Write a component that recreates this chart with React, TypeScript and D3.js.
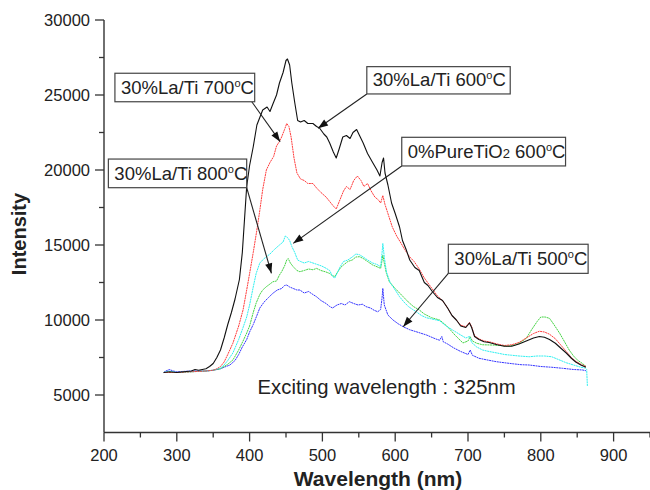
import React from "react";
import * as d3 from "d3";

// ---------- data (wavelength nm, intensity) ----------
const s600: [number, number][] = [
  [282, 6500], [290, 6550], [300, 6500], [310, 6550], [320, 6600], [325, 6700], [330, 6650], [340, 6750],
  [345, 6900], [350, 7100], [355, 7500], [360, 8000], [365, 8800], [370, 9700], [375, 10500], [380, 11400],
  [386, 12700], [390, 14500], [396, 18900], [400, 20300], [405, 21550], [410, 23000], [414, 23500], [418, 24000],
  [424, 24200], [428, 23900], [432, 24400], [437, 25000], [441, 25800], [446, 26500], [450, 27300], [452, 27400],
  [455, 27000], [458, 25800], [462, 24500], [466, 23300], [470, 23200], [475, 23300], [480, 23100], [487, 23100],
  [492, 22900], [496, 22800], [502, 22400], [506, 22200], [510, 21800], [515, 21200], [519, 20800], [523, 21400],
  [528, 22200], [533, 22300], [538, 22100], [542, 22500], [547, 22700], [551, 22300], [556, 21800], [562, 21100],
  [569, 20500], [575, 20000], [579, 19600], [582, 20500], [584, 20800], [586, 19800], [590, 19000], [595, 17800],
  [600, 17100], [606, 16200], [610, 15300], [615, 14700], [620, 14000], [627, 13500], [633, 13300], [640, 12500],
  [645, 12300], [651, 11900], [658, 11500], [665, 11300], [672, 10800], [678, 10300], [684, 10000], [690, 9600],
  [697, 9500], [702, 9800], [705, 9500], [709, 8900], [715, 8700], [722, 8550], [729, 8500], [740, 8350],
  [750, 8250], [760, 8250], [770, 8400], [780, 8600], [790, 8800], [798, 8900], [805, 8850], [812, 8700],
  [820, 8450], [828, 8100], [835, 7800], [842, 7450], [848, 7200], [855, 7000], [862, 6850],
];

const s700: [number, number][] = [
  [282, 6500], [300, 6500], [320, 6550], [340, 6600], [350, 6650], [355, 6750], [360, 6900], [365, 7200],
  [370, 7700], [377, 8450], [385, 9600], [391, 10670], [396, 12000], [400, 13100], [405, 14500], [410, 16000],
  [414, 17300], [418, 18700], [423, 20000], [428, 20500], [433, 20900], [437, 21600], [441, 21900], [444, 22200],
  [448, 22700], [451, 23100], [454, 22900], [457, 22200], [461, 20800], [465, 19800], [470, 19400], [475, 19300],
  [480, 19100], [487, 19100], [492, 18800], [498, 18500], [505, 18200], [510, 17900], [515, 17600], [519, 17400],
  [524, 18000], [529, 18600], [533, 18900], [538, 18700], [543, 19300], [548, 19600], [553, 19300], [557, 18900],
  [562, 19100], [567, 18600], [572, 18200], [577, 18000], [580, 17800], [583, 18300], [586, 17700], [590, 17100],
  [596, 16200], [602, 15600], [607, 15200], [613, 14700], [620, 14200], [626, 13900], [633, 13400], [640, 12800],
  [646, 12400], [652, 12000], [658, 11600], [665, 11300], [672, 10800], [678, 10300], [684, 10000], [690, 9650],
  [697, 9550], [702, 9850], [705, 9550], [709, 8950], [715, 8750], [722, 8600], [729, 8550], [740, 8400],
  [750, 8300], [760, 8350], [770, 8500], [780, 8800], [790, 9100], [798, 9250], [805, 9200], [812, 9050],
  [820, 8750], [828, 8300], [835, 7900], [842, 7500], [848, 7250], [855, 7050], [862, 6900],
];

const sPure: [number, number][] = [
  [282, 6500], [290, 6600], [300, 6500], [320, 6550], [340, 6600], [350, 6650], [360, 6800], [365, 7000],
  [370, 7300], [377, 7800], [385, 8700], [391, 9500], [396, 10200], [400, 11000], [405, 12200], [409, 13100],
  [414, 13800], [420, 14100], [428, 14400], [434, 14700], [441, 15000], [446, 15200], [449, 15600], [452, 15500],
  [455, 15300], [458, 14900], [462, 14500], [466, 14000], [470, 13900], [475, 13800], [481, 13900], [487, 13800],
  [493, 13700], [499, 13600], [505, 13450], [510, 13300], [514, 12900], [517, 12800], [521, 13200], [525, 13600],
  [529, 13900], [535, 14000], [541, 14200], [546, 14400], [551, 14350], [556, 14200], [562, 14000], [569, 13800],
  [575, 13700], [580, 13550], [582, 14500], [583, 15100], [585, 14200], [588, 13200], [593, 12500], [600, 12000],
  [606, 11550], [612, 11200], [618, 10900], [624, 10700], [629, 10550], [636, 10300], [643, 10150], [652, 10050],
  [661, 9950], [670, 9600], [680, 9300], [690, 9000], [697, 8800], [702, 8900], [705, 8500], [712, 8200],
  [720, 8000], [729, 7900], [740, 7800], [750, 7700], [760, 7650], [770, 7600], [784, 7550], [795, 7600],
  [805, 7600], [815, 7550], [825, 7350], [835, 7150], [845, 7000], [855, 6850], [861, 6800], [863, 6700],
  [864, 5600],
];

const s800: [number, number][] = [
  [282, 6500], [300, 6500], [320, 6550], [340, 6600], [350, 6650], [360, 6750], [365, 6900], [370, 7050],
  [377, 7330], [385, 8000], [391, 8600], [396, 9130], [400, 9600], [405, 10500], [409, 11130], [414, 11700],
  [418, 12000], [423, 12220], [428, 12400], [432, 12550], [437, 12600], [441, 13000], [444, 13220], [448, 13600],
  [451, 14000], [453, 14100], [456, 13800], [460, 13550], [465, 13300], [469, 13220], [475, 13300], [481, 13400],
  [487, 13350], [492, 13440], [498, 13300], [505, 13200], [510, 13100], [514, 12950], [517, 12900], [521, 13200],
  [525, 13500], [529, 13670], [535, 13900], [541, 14000], [546, 14200], [551, 14220], [556, 14100], [562, 13900],
  [569, 13670], [575, 13550], [580, 13440], [582, 14000], [583, 14330], [585, 13800], [588, 13100], [592, 12550],
  [600, 12100], [606, 11800], [611, 11550], [618, 11200], [625, 10900], [633, 10670], [640, 10400], [650, 10150],
  [661, 10000], [672, 9550], [682, 9000], [693, 8470], [700, 8600], [703, 8890], [706, 8600], [712, 8450],
  [720, 8350], [734, 8330], [745, 8300], [755, 8250], [765, 8350], [772, 8500], [780, 8780], [788, 9400],
  [795, 9900], [800, 10200], [806, 10200], [812, 10110], [818, 9700], [826, 9110], [832, 8600], [839, 8000],
  [845, 7600], [851, 7300], [857, 7110], [862, 6900],
];

const s500: [number, number][] = [
  [282, 6500], [285, 6600], [290, 6700], [295, 6600], [300, 6550], [320, 6600], [340, 6600], [350, 6650],
  [360, 6750], [365, 6850], [373, 7000], [380, 7300], [385, 7700], [390, 8200], [396, 8700], [400, 9200],
  [405, 9700], [410, 10300], [414, 10800], [420, 11200], [426, 11500], [432, 11780], [438, 12000], [444, 12100],
  [448, 12300], [451, 12330], [455, 12200], [460, 12100], [465, 12000], [469, 12000], [475, 11800], [481, 11900],
  [487, 11700], [492, 11550], [498, 11300], [505, 11100], [510, 10900], [514, 10800], [520, 11000], [526, 11100],
  [531, 11000], [537, 11220], [543, 11100], [549, 11000], [555, 11050], [560, 10890], [566, 10800], [571, 10650],
  [576, 10550], [580, 10700], [582, 11500], [583, 12110], [585, 11000], [590, 10330], [597, 10000], [604, 9750],
  [611, 9550], [620, 9350], [630, 9200], [643, 9000], [655, 8750], [661, 8650], [664, 8900], [666, 8550],
  [672, 8400], [680, 8150], [690, 7900], [700, 7700], [703, 8000], [706, 7650], [715, 7450], [725, 7350],
  [739, 7220], [750, 7150], [762, 7080], [773, 7020], [784, 7000], [800, 6900], [815, 6850], [830, 6780],
  [845, 6700], [857, 6670], [862, 6620],
];

const seriesData = [s500, s800, sPure, s700, s600];
const seriesColors = ["#3535ff", "#44d444", "#2ef0f0", "#ff3c3c", "#111111"];
const seriesDash = ["2 0.6", "2 0.6", "2 0.6", "2 0.6", ""];

const xMajorTicks = [200, 300, 400, 500, 600, 700, 800, 900];
const xMinorTicks = [250, 350, 450, 550, 650, 750, 850, 950];
const yMajorTicks = [5000, 10000, 15000, 20000, 25000, 30000];
const yMinorTicks = [7500, 12500, 17500, 22500, 27500];

// annotations: label, box [x0, yTop, x1, yBottom] in data units, arrow [fromX, fromY, toX, toY]
const annLabels = ["30%La/Ti 700", "30%La/Ti 600", "0%PureTiO", "30%La/Ti 800", "30%La/Ti 500"];
const annBoxes = [
  [215, 26450, 407, 24550],
  [561, 26890, 758, 25070],
  [609, 22180, 834, 20270],
  [206, 20730, 396, 18820],
  [673, 15050, 865, 13110],
];
const annArrows = [
  [403, 24550, 442, 21890],
  [561, 25070, 494, 22780],
  [609, 20270, 460, 15110],
  [396, 18820, 430, 13110],
  [673, 13110, 611, 9550],
];
const noteText = "Exciting wavelength : 325nm";
const notePos = [411, 5100];

const FONT = "Arial, 'Liberation Sans', Helvetica, sans-serif";

export default function App() {
  const W = 650, H = 490;
  const x = d3.scaleLinear().domain([200, 950]).range([104, 650]);
  const y = d3.scaleLinear().domain([2500, 30000]).range([432.5, 20]);
  const line = d3
    .line<[number, number]>()
    .x((d) => x(d[0]))
    .y((d) => y(d[1]));

  const axisColor = "#333";
  const textColor = "#222";

  const arrowHead = (x1: number, y1: number, x2: number, y2: number) => {
    const dx = x2 - x1, dy = y2 - y1;
    const len = Math.hypot(dx, dy);
    const ux = dx / len, uy = dy / len;
    const L = 10, hw = 3.6;
    const bx = x2 - ux * L, by = y2 - uy * L;
    return `M${x2},${y2} L${bx - uy * hw},${by + ux * hw} L${bx + uy * hw},${by - ux * hw} Z`;
  };

  return (
    <svg
      width={W}
      height={H}
      style={{ position: "absolute", left: 0, top: 0, background: "#fff" }}
      fontFamily={FONT}
    >
      <rect x={0} y={0} width={W} height={H} fill="#fff" />
      {/* axes */}
      <line x1={x(200)} x2={650} y1={y(2500)} y2={y(2500)} stroke={axisColor} strokeWidth={1.4} />
      <line x1={x(200)} x2={x(200)} y1={y(2500)} y2={y(30000)} stroke={axisColor} strokeWidth={1.4} />
      {xMajorTicks.map((t) => (
        <g key={"xm" + t}>
          <line x1={x(t)} x2={x(t)} y1={y(2500)} y2={y(2500) + 9} stroke={axisColor} strokeWidth={1.3} />
          <text x={x(t)} y={460.5} textAnchor="middle" fontSize={16.5} fill={textColor}>
            {t}
          </text>
        </g>
      ))}
      {xMinorTicks.map((t) => (
        <line key={"xn" + t} x1={x(t)} x2={x(t)} y1={y(2500)} y2={y(2500) + 5} stroke={axisColor} strokeWidth={1.3} />
      ))}
      {yMajorTicks.map((t) => (
        <g key={"ym" + t}>
          <line x1={x(200) - 9} x2={x(200)} y1={y(t)} y2={y(t)} stroke={axisColor} strokeWidth={1.3} />
          <text x={90} y={y(t) + 6} textAnchor="end" fontSize={16.5} fill={textColor}>
            {t}
          </text>
        </g>
      ))}
      {yMinorTicks.map((t) => (
        <line key={"yn" + t} x1={x(200) - 5} x2={x(200)} y1={y(t)} y2={y(t)} stroke={axisColor} strokeWidth={1.3} />
      ))}

      {/* axis titles */}
      <text x={378} y={485.5} textAnchor="middle" fontSize={21} fontWeight="bold" fill={textColor}>
        Wavelength (nm)
      </text>
      <text
        transform={`translate(25.5,234) rotate(-90)`}
        textAnchor="middle"
        fontSize={20}
        fontWeight="bold"
        fill={textColor}
      >
        Intensity
      </text>

      {/* series */}
      {seriesData.map((s, i) => (
        <path
          key={"s" + i}
          d={line(s) || ""}
          fill="none"
          stroke={seriesColors[i]}
          strokeWidth={i === 4 ? 1.1 : 1}
          strokeDasharray={seriesDash[i] || undefined}
          strokeLinejoin="round"
        />
      ))}

      {/* annotations */}
      {annBoxes.map((b, i) => {
        const [x0, yt, x1, yb] = b;
        const px0 = x(x0), px1 = x(x1), pyt = y(yt), pyb = y(yb);
        const a = annArrows[i];
        const ax1 = x(a[0]), ay1 = y(a[1]), ax2 = x(a[2]), ay2 = y(a[3]);
        const isPure = i === 2;
        return (
          <g key={"a" + i}>
            <line x1={ax1} y1={ay1} x2={ax2} y2={ay2} stroke="#222" strokeWidth={1.1} />
            <path d={arrowHead(ax1, ay1, ax2, ay2)} fill="#111" />
            <rect x={px0} y={pyt} width={px1 - px0} height={pyb - pyt} fill="#fff" stroke="#444" strokeWidth={1.2} />
            <text x={px0 + 6} y={pyb - 8} fontSize={18.5} fill={textColor}>
              {annLabels[i]}
              {isPure ? (
                <>
                  <tspan fontSize={13}>2</tspan>
                  <tspan> 600</tspan>
                </>
              ) : null}
              <tspan fontSize={11} dy={-7}>o</tspan>
              <tspan dy={7}>C</tspan>
            </text>
          </g>
        );
      })}

      <text x={x(notePos[0])} y={y(notePos[1])} fontSize={20.3} fill={textColor}>
        {noteText}
      </text>
    </svg>
  );
}
